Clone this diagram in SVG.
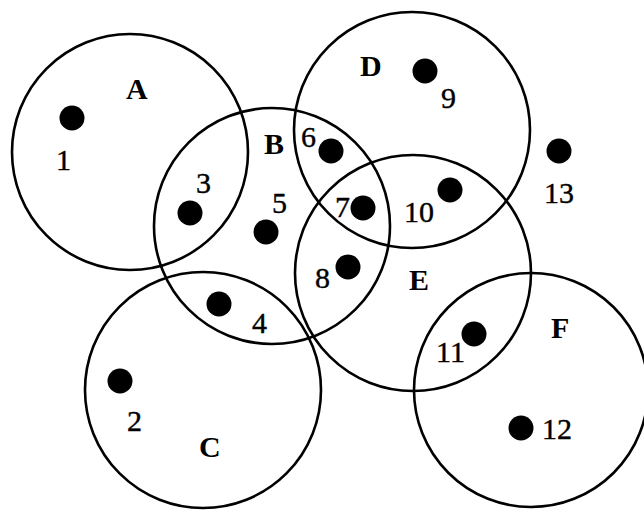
<svg xmlns="http://www.w3.org/2000/svg" width="644" height="510" viewBox="0 0 644 510">
<style>
.set{fill:none;stroke:#000;stroke-width:2.6}
.pt{fill:#000}
.num{font-family:"Liberation Serif","Times New Roman",serif;font-size:30px;fill:#000;stroke:#000;stroke-width:0.4}
.lbl{font-family:"Liberation Serif","Times New Roman",serif;font-size:30px;font-weight:bold;fill:#000}
</style>
<rect width="644" height="510" fill="#fff"/>
<g id="set-A"><circle class="set" cx="130" cy="152" r="118"/><text class="lbl" x="126" y="99">A</text></g>
<g id="set-B"><circle class="set" cx="272" cy="226" r="118"/><text class="lbl" x="264" y="154">B</text></g>
<g id="set-C"><circle class="set" cx="203" cy="390" r="118"/><text class="lbl" x="199" y="457">C</text></g>
<g id="set-D"><circle class="set" cx="412" cy="130" r="118"/><text class="lbl" x="360" y="76">D</text></g>
<g id="set-E"><circle class="set" cx="413" cy="273" r="118"/><text class="lbl" x="409" y="290">E</text></g>
<g id="set-F"><circle class="set" cx="531" cy="390" r="117"/><text class="lbl" x="551" y="338">F</text></g>
<g id="p1"><circle class="pt" cx="72" cy="118" r="12.5"/><text class="num" x="56" y="170">1</text></g>
<g id="p2"><circle class="pt" cx="120" cy="381" r="12.5"/><text class="num" x="127" y="431">2</text></g>
<g id="p3"><circle class="pt" cx="190" cy="213" r="12.5"/><text class="num" x="196" y="193">3</text></g>
<g id="p4"><circle class="pt" cx="219" cy="304" r="12.5"/><text class="num" x="252" y="333">4</text></g>
<g id="p5"><circle class="pt" cx="266" cy="232" r="12.5"/><text class="num" x="272" y="213">5</text></g>
<g id="p6"><circle class="pt" cx="331" cy="151" r="12.5"/><text class="num" x="301" y="147">6</text></g>
<g id="p7"><circle class="pt" cx="363" cy="208" r="12.5"/><text class="num" x="335" y="217">7</text></g>
<g id="p8"><circle class="pt" cx="348" cy="267" r="12.5"/><text class="num" x="315" y="288">8</text></g>
<g id="p9"><circle class="pt" cx="425" cy="71" r="12.5"/><text class="num" x="441" y="108">9</text></g>
<g id="p10"><circle class="pt" cx="450" cy="190" r="12.5"/><text class="num" x="404" y="222">10</text></g>
<g id="p11"><circle class="pt" cx="474" cy="334" r="12.5"/><text class="num" x="436" y="362">11</text></g>
<g id="p12"><circle class="pt" cx="521" cy="428" r="12.5"/><text class="num" x="542" y="439">12</text></g>
<g id="p13"><circle class="pt" cx="559" cy="151" r="12.5"/><text class="num" x="544" y="203">13</text></g>
<g id="connectors"></g>
</svg>
